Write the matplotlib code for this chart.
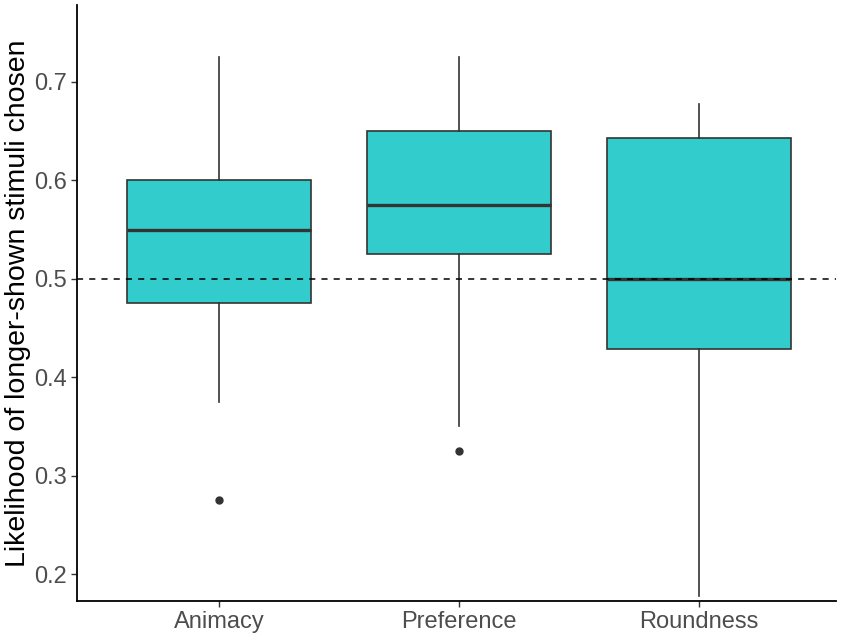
import matplotlib.pyplot as plt

plt.rcParams['font.family'] = ['Liberation Sans', 'DejaVu Sans']

# box statistics
categories = ['Animacy', 'Preference', 'Roundness']
whisker_low = [0.375, 0.35, 0.178]
q1 = [0.475, 0.525, 0.429]
medians = [0.55, 0.575, 0.50]
q3 = [0.60, 0.65, 0.643]
whisker_high = [0.725, 0.725, 0.678]
outliers = [[0.275], [0.325], []]

stats = []
for i, name in enumerate(categories):
    stats.append({'label': name, 'whislo': whisker_low[i], 'q1': q1[i], 'med': medians[i],
                  'q3': q3[i], 'whishi': whisker_high[i], 'fliers': outliers[i]})

fig = plt.figure(figsize=(8.51, 6.38), dpi=100)
ax = fig.add_axes([0.0905, 0.058, 0.8915, 0.934])

edge = '#333333'
ax.bxp(stats, positions=[1, 2, 3], widths=0.767, patch_artist=True, showcaps=False,
       boxprops=dict(facecolor='#33CCCC', edgecolor=edge, linewidth=1.2),
       medianprops=dict(color=edge, linewidth=2.4),
       whiskerprops=dict(color=edge, linewidth=1.2),
       flierprops=dict(marker='o', markerfacecolor=edge, markeredgecolor=edge, markersize=5))

ax.axhline(0.5, color='black', linestyle=(0, (4, 4)), linewidth=1.1, zorder=5)

ax.set_xlim(0.406, 3.571)
ax.set_ylim(0.1726, 0.778)
ax.set_yticks([0.2, 0.3, 0.4, 0.5, 0.6, 0.7])
ax.set_yticklabels(['0.2', '0.3', '0.4', '0.5', '0.6', '0.7'])
ax.set_xticks([1, 2, 3])
ax.set_xticklabels(categories)
ax.tick_params(labelsize=17, labelcolor='#4D4D4D', color='#333333', length=4, width=1)
ax.set_ylabel('Likelihood of longer-shown stimuli chosen', fontsize=20.5, color='black', labelpad=2)

for side in ['top', 'right']:
    ax.spines[side].set_visible(False)
for side in ['left', 'bottom']:
    ax.spines[side].set_linewidth(1.3)
    ax.spines[side].set_color('black')

fig.savefig('out.png', dpi=100)
